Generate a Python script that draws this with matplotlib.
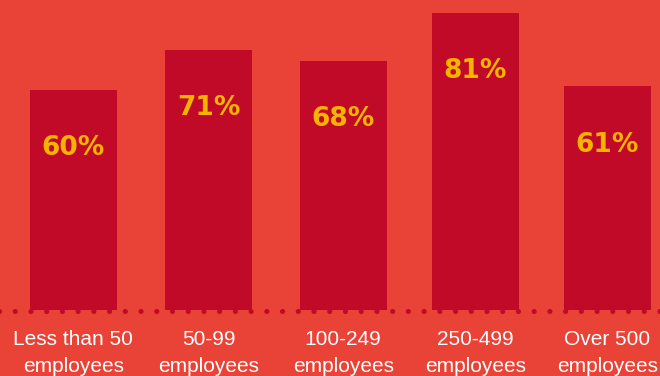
import numpy as np
import matplotlib.pyplot as plt

plt.rcParams['font.family'] = ['Liberation Sans', 'DejaVu Sans']

line1 = ["Less than 50", "50-99", "100-249", "250-499", "Over 500"]
line2 = ["employees"] * 5
values = [60, 71, 68, 81, 61]

bg = '#E94236'
bar_col = '#C10A27'
lab_col = '#F6B400'

fig = plt.figure(figsize=(6.6, 3.76), dpi=100)
fig.patch.set_facecolor(bg)
ax = fig.add_axes([0, 0, 1, 1])
ax.set_facecolor(bg)

x = np.array([0, 1.015, 2.02, 3.01, 4.0])
ax.bar(x, values, width=0.652, color=bar_col, zorder=3)

# dotted baseline under the bars
ax.plot([-0.56, 4.4], [-0.3, -0.3], color=bar_col, lw=3.7, linestyle=(0, (0.01, 3.05)),
        dash_capstyle='round', zorder=2)

for xi, v in zip(x, values):
    ax.text(xi, v - 17.8, f"{v}%", ha='center', va='baseline', color=lab_col,
            fontsize=19, fontweight='bold', family='DejaVu Sans', zorder=4)

for xi, a, b in zip(x, line1, line2):
    ax.text(xi, -9.5, a, ha='center', va='baseline', color='white', fontsize=15)
    ax.text(xi, -16.9, b, ha='center', va='baseline', color='white', fontsize=15)

ax.set_xlim(-0.55, 4.393)
ax.set_ylim(-18, 84.5)
ax.axis('off')

fig.savefig('out.png', dpi=100, facecolor=bg)
